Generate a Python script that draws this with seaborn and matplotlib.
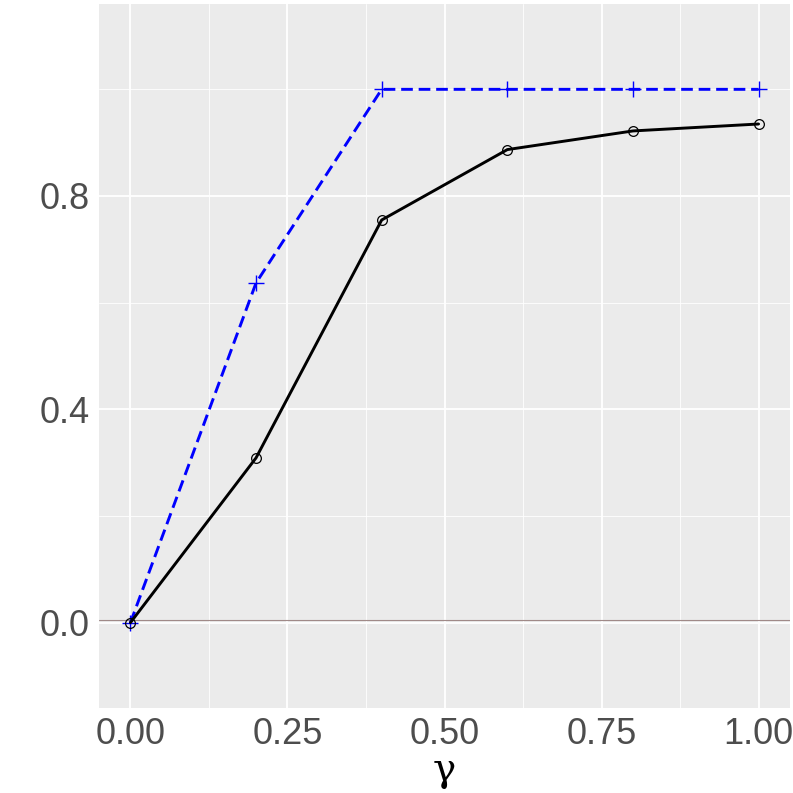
import matplotlib
matplotlib.use("Agg")
import matplotlib.pyplot as plt
import seaborn as sns
import pandas as pd
from matplotlib.ticker import FixedLocator

# ==========================================
# DATA
# ==========================================

gamma = [0.0, 0.2, 0.4, 0.6, 0.8, 1.0]
black_vals = [0.0, 0.309, 0.755, 0.887, 0.922, 0.935]
blue_vals = [0.0, 0.637, 1.0, 1.0, 1.0, 1.0]
ref_level = 0.005

x_ticks = [0.0, 0.25, 0.5, 0.75, 1.0]
x_labels = ["0.00", "0.25", "0.50", "0.75", "1.00"]
y_ticks = [0.0, 0.4, 0.8]
y_labels = ["0.0", "0.4", "0.8"]

df_black = pd.DataFrame({"gamma": gamma, "value": black_vals})
df_blue = pd.DataFrame({"gamma": gamma, "value": blue_vals})

# ==========================================
# PLOT
# ==========================================

sns.set_style("white")
plt.rcParams["font.family"] = ["Liberation Sans", "DejaVu Sans"]

fig = plt.figure(figsize=(7.93, 7.93), dpi=100)
ax = fig.add_axes([99 / 793, 1 - 708 / 793, 691 / 793, 704 / 793])
ax.set_facecolor("#EBEBEB")

ax.axhline(ref_level, color="#A08A88", lw=0.8, zorder=1)

sns.lineplot(
    data=df_blue, x="gamma", y="value", ax=ax,
    color="blue", lw=2.1, linestyle=(0, (4, 2)),
    marker="+", markersize=12, markeredgewidth=1.0,
    markeredgecolor="blue", zorder=3
)
sns.lineplot(
    data=df_black, x="gamma", y="value", ax=ax,
    color="black", lw=2.1,
    marker="o", markersize=7, markerfacecolor="none",
    markeredgecolor="black", markeredgewidth=0.9, zorder=4
)

ax.set_xlim(-0.05, 1.05)
ax.set_ylim(-0.16, 1.16)

ax.set_xticks(x_ticks)
ax.set_xticklabels(x_labels)
ax.set_yticks(y_ticks)
ax.set_yticklabels(y_labels)
ax.xaxis.set_minor_locator(FixedLocator([0.125, 0.375, 0.625, 0.875]))
ax.yaxis.set_minor_locator(FixedLocator([0.2, 0.6, 1.0]))

ax.grid(which="major", color="white", lw=1.3, zorder=0)
ax.grid(which="minor", color="white", lw=0.6, zorder=0)
ax.set_axisbelow(True)

ax.tick_params(axis="both", which="major", labelsize=26, colors="#4D4D4D",
               length=3.5, width=0.8, labelcolor="#4D4D4D", pad=3, direction="out")
ax.tick_params(axis="both", which="minor", length=0)

for s in ax.spines.values():
    s.set_visible(False)

ax.set_xlabel("γ", fontsize=28, family="DejaVu Serif", color="black", labelpad=0)
ax.set_ylabel("")

plt.savefig("out.png", dpi=100)
plt.close()
